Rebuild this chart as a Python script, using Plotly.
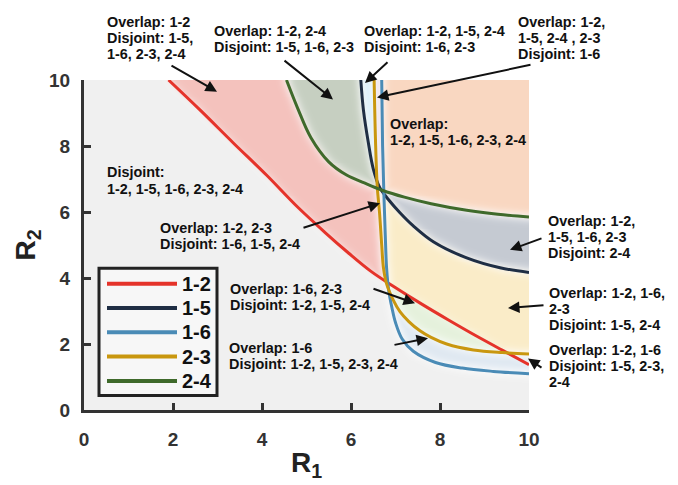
import numpy as np
import plotly.graph_objects as go

# ---------------------------------------------------------------
# Boundary curves in the (R1, R2) plane for each pair of sets
# ---------------------------------------------------------------
pair_names = ["1-2", "1-5", "1-6", "2-3", "2-4"]
line_colors = ["#e5332a", "#1f2e44", "#4a8bb6", "#c9970f", "#3f6a2b"]

r12_x = [1.90, 2.60, 3.35, 4.10, 4.80, 5.40, 5.95, 6.45, 6.95, 7.60, 8.20, 8.90, 9.50, 10.0]
r12_y = [10.0, 9.10, 8.10, 7.12, 6.15, 5.40, 4.75, 4.20, 3.75, 3.20, 2.72, 2.18, 1.74, 1.37]

r15_x = [6.22, 6.28, 6.39, 6.50, 6.65, 6.84, 7.10, 7.40, 7.85, 8.60, 9.35, 10.0]
r15_y = [10.0, 9.08, 8.10, 7.31, 6.73, 6.38, 5.98, 5.58, 5.10, 4.61, 4.31, 4.17]

r16_x = [6.69, 6.71, 6.74, 6.77, 6.80, 6.85, 6.92, 7.00, 7.15, 7.40, 7.90, 8.50, 9.20, 10.0]
r16_y = [10.0, 8.00, 6.50, 5.30, 4.30, 3.60, 3.10, 2.65, 2.15, 1.78, 1.44, 1.27, 1.17, 1.10]

r23_x = [6.52, 6.55, 6.59, 6.64, 6.69, 6.73, 6.80, 6.95, 7.10, 7.30, 7.55, 7.80, 8.15, 8.75, 9.40, 10.0]
r23_y = [10.0, 8.20, 6.76, 6.00, 5.00, 4.30, 3.82, 3.33, 2.98, 2.68, 2.40, 2.20, 2.00, 1.82, 1.74, 1.70]

r24_x = [4.55, 4.80, 5.10, 5.50, 5.90, 6.30, 6.70, 7.20, 7.80, 8.60, 9.30, 10.0]
r24_y = [10.0, 9.15, 8.25, 7.52, 7.12, 6.88, 6.66, 6.45, 6.25, 6.05, 5.93, 5.85]

curves_x = [r12_x, r15_x, r16_x, r23_x, r24_x]
curves_y = [r12_y, r15_y, r16_y, r23_y, r24_y]

# Shading for each overlap combination (bit k set = above curve k)
# bits: 1-2 -> 1, 1-5 -> 2, 1-6 -> 4, 2-3 -> 8, 2-4 -> 16
region_colors = {
    0: "#f0f0f0",
    1: "#f4c2bd",
    3: "#c5cad2",
    4: "#dfe8f1",
    5: "#e6ecf2",
    7: "#c5cad2",
    9: "#f5efe6",
    11: "#c5cad2",
    12: "#e5f1dc",
    13: "#faecc8",
    15: "#c5cad2",
    17: "#c6cfc1",
    19: "#d8eef9",
    21: "#f9d7c1",
    23: "#f9d7c1",
    25: "#eadcea",
    27: "#eadcea",
    29: "#f9d7c1",
    31: "#f9d7c1",
}
edge_fade = [0.45, 1.0, 1.0, 1.0, 1.0]

# Text blocks: lines of text, left edge (px), first line centre (px)
note_lines = [
    ["Overlap: 1-2", "Disjoint: 1-5,", "1-6, 2-3, 2-4"],
    ["Overlap: 1-2, 2-4", "Disjoint: 1-5, 1-6, 2-3"],
    ["Overlap: 1-2, 1-5, 2-4", "Disjoint: 1-6, 2-3"],
    ["Overlap: 1-2,", "1-5, 2-4 , 2-3", "Disjoint: 1-6"],
    ["Overlap:", "1-2, 1-5, 1-6, 2-3, 2-4"],
    ["Disjoint:", "1-2, 1-5, 1-6, 2-3, 2-4"],
    ["Overlap: 1-2, 2-3", "Disjoint: 1-6, 1-5, 2-4"],
    ["Overlap: 1-6, 2-3", "Disjoint: 1-2, 1-5, 2-4"],
    ["Overlap: 1-6", "Disjoint: 1-2, 1-5, 2-3, 2-4"],
    ["Overlap: 1-2,", "1-5, 1-6, 2-3", "Disjoint: 2-4"],
    ["Overlap: 1-2, 1-6,", "2-3", "Disjoint: 1-5, 2-4"],
    ["Overlap: 1-2, 1-6", "Disjoint: 1-5, 2-3,", "2-4"],
]
note_left = [106, 213, 363, 517, 389, 106, 159, 229, 228, 547, 548, 548]
note_top = [20, 29, 29, 20, 125, 175, 232, 295, 356, 225, 299, 358]
note_step = 16.8

# Arrows: (tail px, head px)
arrows = [
    ((170, 65), (217, 92)),
    ((283, 60), (333, 100)),
    ((389, 61), (365, 83)),
    ((532, 65), (377, 98)),
    ((302, 232), (380, 207)),
    ((372, 295), (415, 310)),
    ((393, 353), (428, 346)),
    ((543, 243), (510, 255)),
    ((545, 312), (508, 315)),
    ((543, 377), (528, 367)),
]

# ---------------------------------------------------------------
# Geometry of the plotting area
# ---------------------------------------------------------------
W, H = 678, 485
ML, MR, MT, MB = 84, 149, 80, 65
PW, PH = W - ML - MR, H - MT - MB
XMAX, YMAX = 10.0, 10.0


def px_to_paper(px, py):
    return (px - ML) / PW, (H - MB - py) / PH


def px_to_data(px, py):
    return (px - ML) / PW * XMAX, (H - MB - py) / PH * YMAX


# ---------------------------------------------------------------
# Shaded region map (one cell per screen pixel)
# ---------------------------------------------------------------
dx, dy = XMAX / PW, YMAX / PH
gx, gy = np.meshgrid((np.arange(PW) + 0.5) * dx, (np.arange(PH) + 0.5) * dy)


def above(cx, cy):
    px = list(cx) + [10.8, 10.8, cx[0]]
    py = list(cy) + [cy[-1], 10.8, 10.8]
    inside = np.zeros(gx.shape, dtype=bool)
    n = len(px)
    for i in range(n):
        x1, y1 = px[i], py[i]
        x2, y2 = px[(i + 1) % n], py[(i + 1) % n]
        if y1 == y2:
            continue
        cross = (y1 > gy) != (y2 > gy)
        xint = x1 + (gy - y1) * (x2 - x1) / (y2 - y1)
        inside ^= cross & (gx < xint)
    return inside


def blur(a, sigma):
    r = max(1, int(round(3 * sigma)))
    t = np.arange(-r, r + 1)
    k = np.exp(-0.5 * (t / sigma) ** 2)
    k /= k.sum()
    out = a.astype(float)
    for axis in (0, 1):
        pad = [(0, 0)] * out.ndim
        pad[axis] = (r, r)
        p = np.pad(out, pad, mode="edge")
        n = out.shape[axis]
        acc = np.zeros_like(out)
        for i, w in enumerate(k):
            sl = [slice(None)] * out.ndim
            sl[axis] = slice(i, i + n)
            acc += w * p[tuple(sl)]
        out = acc
    return out


def hex_rgb(h):
    h = h.lstrip("#")
    return [int(h[i:i + 2], 16) for i in (0, 2, 4)]


masks = [above(cx, cy) for cx, cy in zip(curves_x, curves_y)]
code = np.zeros(gx.shape, dtype=int)
for k, m in enumerate(masks):
    code += m.astype(int) << k

lut = np.array([hex_rgb(region_colors.get(c, "#f0f0f0")) for c in range(32)], dtype=float)
rgb = blur(lut[code], 2.2)

fade = np.zeros(gx.shape)
for m, f in zip(masks, edge_fade):
    e = np.zeros(gx.shape, dtype=bool)
    e[:-1, :] |= m[:-1, :] != m[1:, :]
    e[1:, :] |= m[:-1, :] != m[1:, :]
    e[:, :-1] |= m[:, :-1] != m[:, 1:]
    e[:, 1:] |= m[:, :-1] != m[:, 1:]
    fade = np.maximum(fade, f * blur(e, 4.0))
fade = np.clip(fade * 2.6, 0, 0.5)[..., None]
rgb = rgb + (255 - rgb) * fade
img = np.clip(np.round(rgb), 0, 255).astype(np.uint8)

# ---------------------------------------------------------------
# Figure
# ---------------------------------------------------------------
fig = go.Figure()
fig.add_trace(go.Image(z=img, x0=dx / 2, dx=dx, y0=dy / 2, dy=dy,
                       colormodel="rgb", hoverinfo="skip"))

for name, color, cx, cy in zip(pair_names, line_colors, curves_x, curves_y):
    fig.add_trace(go.Scatter(x=cx, y=cy, mode="lines", name=name,
                             line=dict(color=color, width=3, shape="spline"),
                             showlegend=False, hoverinfo="skip"))

annotations = []
text_font = dict(family="Liberation Sans, Arial, sans-serif", size=14.4,
                 color="#111111", weight="bold")
for lines, left, top in zip(note_lines, note_left, note_top):
    for j, line in enumerate(lines):
        xp, yp = px_to_paper(left, top + j * note_step)
        annotations.append(dict(text=line, x=xp, y=yp, xref="paper", yref="paper",
                                xanchor="left", yanchor="middle", showarrow=False,
                                font=text_font, borderpad=0))

for (tx, ty), (hx, hy) in arrows:
    xd, yd = px_to_data(hx, hy)
    annotations.append(dict(text="", x=xd, y=yd, xref="x", yref="y",
                            ax=tx - hx, ay=ty - hy, showarrow=True,
                            arrowhead=2, arrowsize=1.15, arrowwidth=2,
                            arrowcolor="#111111", standoff=0))

# Legend panel
shapes = []
bx0, by0 = px_to_paper(99, 405)
bx1, by1 = px_to_paper(217, 274)
shapes.append(dict(type="rect", xref="paper", yref="paper", x0=bx0, y0=by0,
                   x1=bx1, y1=by1, fillcolor="#f7f7f7",
                   line=dict(color="#222222", width=3)))
for i, (name, color) in enumerate(zip(pair_names, line_colors)):
    ly = 290 + 25 * i
    lx0, lyp = px_to_paper(107, ly)
    lx1, _ = px_to_paper(177, ly)
    shapes.append(dict(type="line", xref="paper", yref="paper", x0=lx0, x1=lx1,
                       y0=lyp, y1=lyp, line=dict(color=color, width=4)))
    tx, _ = px_to_paper(181, ly)
    annotations.append(dict(text=name, x=tx, y=lyp, xref="paper", yref="paper",
                            xanchor="left", yanchor="middle", showarrow=False,
                            font=dict(family="Liberation Sans, Arial, sans-serif",
                                      size=20, color="#111111", weight="bold"),
                            borderpad=0))

axis_common = dict(
    range=[0, 10], tickvals=[0, 2, 4, 6, 8, 10], ticks="inside", ticklen=7,
    tickwidth=2.5, tickcolor="#333333", showline=True, linewidth=3,
    linecolor="#333333", showgrid=False, zeroline=False,
    tickfont=dict(family="Liberation Sans, Arial, sans-serif", size=19,
                  color="#333333", weight="bold"),
)

fig.update_layout(
    width=W, height=H,
    margin=dict(l=ML, r=MR, t=MT, b=MB),
    paper_bgcolor="white", plot_bgcolor="#f0f0f0",
    showlegend=False,
    annotations=annotations, shapes=shapes,
    xaxis=dict(**axis_common, autorange=False, ticklabelstandoff=10,
               title=dict(text="R<sub>1</sub>", standoff=4,
                          font=dict(family="Liberation Sans, Arial, sans-serif",
                                    size=28, color="#222222", weight="bold"))),
    yaxis=dict(**axis_common, autorange=False, scaleanchor=False, ticklabelstandoff=7,
               title=dict(text="R<sub>2</sub>", standoff=6,
                          font=dict(family="Liberation Sans, Arial, sans-serif",
                                    size=28, color="#222222", weight="bold"))),
)

fig.write_html("out.html")
